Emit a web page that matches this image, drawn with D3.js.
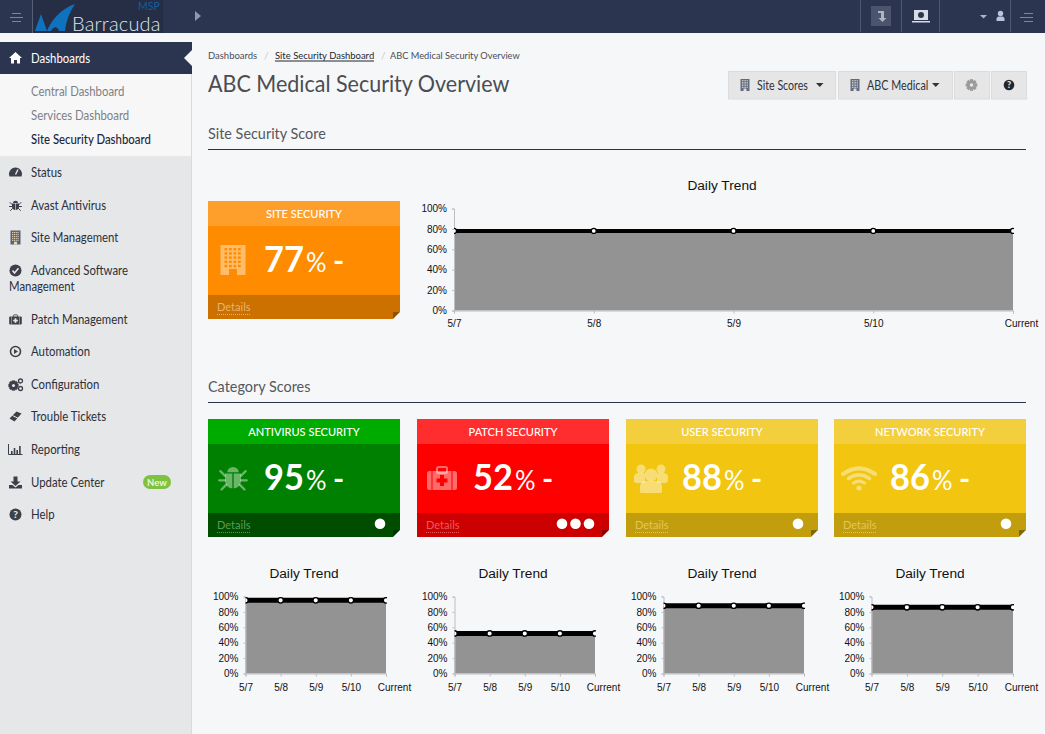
<!DOCTYPE html>
<html>
<head>
<meta charset="utf-8">
<title>ABC Medical Security Overview</title>
<script src="https://d3js.org/d3.v7.min.js"></script>
<style>
  html, body { margin: 0; padding: 0; background: #f6f7f9; overflow: hidden; }
  svg { display: block; }
  text { font-family: "Lato", "Noto Sans", sans-serif; }
  .chart text { font-family: "Liberation Sans", Arial, sans-serif; }
</style>
</head>
<body>
<svg id="page" width="1045" height="734"></svg>
<script>
// Chart values
const trendDays = ["5/7", "5/8", "5/9", "5/10", "Current"];
const percentTicks = [0, 20, 40, 60, 80, 100];
const siteTrend = [78, 78, 78, 78, 78];
const antivirusTrend = [95, 95, 95, 95, 95];
const patchTrend = [52, 52, 52, 52, 52];
const userTrend = [88, 88, 88, 88, 88];
const networkTrend = [86, 86, 86, 86, 86];

const cardTitles = ["SITE SECURITY", "ANTIVIRUS SECURITY", "PATCH SECURITY", "USER SECURITY", "NETWORK SECURITY"];
const cardScores = [77, 95, 52, 88, 86];
const cardDots = [0, 1, 3, 1, 1];

const subMenuLabels = ["Central Dashboard", "Services Dashboard", "Site Security Dashboard"];
const menuLabels = ["Status", "Avast Antivirus", "Site Management", "Advanced Software", "Patch Management",
  "Automation", "Configuration", "Trouble Tickets", "Reporting", "Update Center", "Help"];

const svg = d3.select("#page");
const navy = "#2c3550";

function rect(parent, x, y, w, h, fill) {
  return parent.append("rect").attr("x", x).attr("y", y).attr("width", w).attr("height", h).attr("fill", fill);
}
function label(parent, x, y, str, size, fill, weight, anchor) {
  return parent.append("text").attr("x", x).attr("y", y).attr("font-size", size).attr("fill", fill)
    .attr("font-weight", weight || 400).attr("text-anchor", anchor || "start").text(str);
}
// Lato runs wider than the page's font, so squeeze the text horizontally
function squeeze(sel, factor) {
  const len = sel.node().getComputedTextLength();
  sel.attr("textLength", len * factor).attr("lengthAdjust", "spacingAndGlyphs");
  return sel;
}
function path(parent, d, fill) {
  return parent.append("path").attr("d", d).attr("fill", fill);
}

// ---- icons, drawn around 0,0
function buildingIcon(g, w, h, fill, windowFill) {
  rect(g, -w / 2, -h / 2, w, h, fill);
  const cols = d3.range(4), rows = d3.range(5);
  cols.forEach(c => rows.forEach(r => {
    rect(g, -w / 2 + w * (0.16 + c * 0.18), -h / 2 + h * (0.1 + r * 0.14), w * 0.11, h * 0.08, windowFill);
  }));
  rect(g, -w * 0.16, h * 0.3, w * 0.32, h * 0.2, windowFill);
}
function bugIcon(g, s, fill) {
  g = g.append("g").attr("transform", `scale(${s})`);
  path(g, "M-5,-5 A5,4.5 0 0 1 5,-5 Z", fill);
  path(g, "M-7,-4 H-0.6 V9 C-4,9 -7,6 -7,2 Z M7,-4 H0.6 V9 C4,9 7,6 7,2 Z", fill);
  g.append("path").attr("d", "M-7,-2 L-11,-6 M7,-2 L11,-6 M-7,2 H-12 M7,2 H12 M-6,6 L-10,10 M6,6 L10,10")
    .attr("stroke", fill).attr("stroke-width", 2).attr("stroke-linecap", "round");
}
function medkitIcon(g, s, fill, cross) {
  g = g.append("g").attr("transform", `scale(${s})`);
  g.append("rect").attr("x", -5).attr("y", -11).attr("width", 10).attr("height", 6).attr("rx", 1.5)
    .attr("fill", "none").attr("stroke", fill).attr("stroke-width", 2);
  g.append("rect").attr("x", -15).attr("y", -7).attr("width", 30).attr("height", 19).attr("rx", 2.5).attr("fill", fill);
  rect(g, -2, -3, 4, 11, cross);
  rect(g, -5.5, 0.5, 11, 4, cross);
  rect(g, -10.5, -7, 1, 19, cross);
  rect(g, 9.5, -7, 1, 19, cross);
}
function usersIcon(g, fill) {
  [[-10, -9, 4.5], [10, -9, 4.5]].forEach(p => g.append("circle").attr("cx", p[0]).attr("cy", p[1]).attr("r", p[2]).attr("fill", fill));
  path(g, "M-17,-1 Q-17,-5 -12,-5 H-8 Q-6,-5 -6,-2 V5 H-14 Q-17,5 -17,2 Z", fill);
  path(g, "M17,-1 Q17,-5 12,-5 H8 Q6,-5 6,-2 V5 H14 Q17,5 17,2 Z", fill);
  g.append("circle").attr("cx", 0).attr("cy", -3).attr("r", 6.5).attr("fill", fill);
  path(g, "M-11,14 V9 Q-11,3 -5,3 H5 Q11,3 11,9 V14 Q11,15 9,15 H-9 Q-11,15 -11,14 Z", fill);
}
function wifiIcon(g, fill) {
  [[16, 4], [10.5, 3.6], [5.5, 3.2]].forEach((a, i) => {
    g.append("path")
      .attr("d", `M${-a[0]},${-4 + i * 4.5} Q0,${-4 + i * 4.5 - a[0] * 0.7} ${a[0]},${-4 + i * 4.5}`)
      .attr("fill", "none").attr("stroke", fill).attr("stroke-width", a[1]).attr("stroke-linecap", "round");
  });
  g.append("circle").attr("cx", 0).attr("cy", 10).attr("r", 2.6).attr("fill", fill);
}
function gearIcon(g, r, fill, hole) {
  d3.range(8).forEach(i => {
    g.append("rect").attr("x", -1.6).attr("y", -r - 1.5).attr("width", 3.2).attr("height", 3.5)
      .attr("fill", fill).attr("transform", `rotate(${i * 45})`);
  });
  g.append("circle").attr("r", r).attr("fill", fill);
  g.append("circle").attr("r", r * 0.42).attr("fill", hole);
}
function helpIcon(g, r, fill, fg) {
  g.append("circle").attr("r", r).attr("fill", fill);
  label(g, 0, r * 0.62, "?", r * 1.7, fg, 900, "middle");
}

// ---- top bar
rect(svg, 0, 0, 1045, 33, navy);
rect(svg, 33, 0, 130, 33, "#262e46");
rect(svg, 32, 0, 1, 33, "#566079");
[0, 1, 2].forEach(i => rect(svg, i === 1 ? 10 : 12, 13 + i * 4, i === 1 ? 13 : 9, 1, "#7d8597"));
path(svg, "M35,31 L41,14 L47,31 Z M47,31 C52,19 61,9 75,4 C69,13 66,22 65,31 L59,31 C58,27 54,25 51,31 Z", "#0f72bd");
label(svg, 72, 31, "Barracuda", 20, "#dfe3ea", 300).style("letter-spacing", "0.2px");
label(svg, 138, 10, "MSP", 10.5, "#0f5f9f", 400);
path(svg, "M195,11 L201,16 L195,21 Z", "#8f97a8");
[860, 901, 939, 1010].forEach(x => rect(svg, x, 0, 1, 32, "#4e5770"));
rect(svg, 871, 6, 20, 20, "#4b546c");
path(svg, "M878,11 H884 V18 H886.5 L882.5,22 L878.5,18 H881 V13 H878 Z", "#aeb5c3");
rect(svg, 914, 10, 14, 10, "#d8dce4");
svg.append("circle").attr("cx", 921).attr("cy", 15).attr("r", 3).attr("fill", navy);
rect(svg, 912, 21, 18, 1.5, "#d8dce4");
path(svg, "M980,15 H987 L983.5,18.5 Z", "#aeb5c3");
svg.append("circle").attr("cx", 1000.5).attr("cy", 13.5).attr("r", 2.7).attr("fill", "#b9c4d8");
path(svg, "M996.5,21 V19 Q996.5,16.5 999,16.5 H1002 Q1004.5,16.5 1004.5,19 V21 Z", "#b9c4d8");
[0, 1, 2].forEach(i => rect(svg, i === 1 ? 1020 : 1024, 13 + i * 4, i === 1 ? 13 : 9, 1, "#7d8597"));

// ---- sidebar
rect(svg, 0, 33, 192, 701, "#e6e7e9");
rect(svg, 191, 33, 1, 701, "#d9dadd");
rect(svg, 0, 33, 192, 9, "#f6f7f9");
rect(svg, 0, 42, 192, 32, navy);
path(svg, "M192,50 L184,58 L192,66 Z", "#f6f7f9");
path(svg, "M9,58 L15.5,52 L22,58 H20 V63.5 H17 V60 H14 V63.5 H11 V58 Z", "#ffffff");
squeeze(label(svg, 31, 62.5, "Dashboards", 12.5, "#ffffff"), 0.91);
rect(svg, 0, 74, 191, 82, "#f7f7f8");
subMenuLabels.forEach((d, i) => {
  squeeze(label(svg, 31, 95.5 + i * 24, d, 12.5, i === 2 ? "#1e2538" : "#7d7f85", i === 2 ? 500 : 400), 0.91);
});

const menuY = [176.5, 209.5, 241.5, 274.5, 323.5, 355.5, 388.5, 420.5, 453.5, 486.5, 518.5];
const ink = "#3c4048";
menuLabels.forEach((d, i) => {
  squeeze(label(svg, 31, menuY[i], d, 12.5, "#2c3039"), 0.91);
  const g = svg.append("g").attr("transform", `translate(15.5,${menuY[i] - 4})`);
  if (d === "Status") {
    g.append("path").attr("d", "M-6,4 A6.5,6.5 0 1 1 6,4 Z").attr("fill", ink);
    g.append("path").attr("d", "M0,2 L2.5,-3").attr("stroke", "#e6e7e9").attr("stroke-width", 1.4);
  } else if (d === "Avast Antivirus") {
    bugIcon(g, 0.5, ink);
  } else if (d === "Site Management") {
    buildingIcon(g, 10, 14, "#55607a", "#e9d9b8");
  } else if (d === "Advanced Software") {
    g.append("circle").attr("r", 6).attr("fill", ink);
    g.append("path").attr("d", "M-3,0 L-1,2.4 L3,-2.2").attr("fill", "none").attr("stroke", "#e6e7e9").attr("stroke-width", 1.6);
  } else if (d === "Patch Management") {
    medkitIcon(g, 0.42, ink, "#e6e7e9");
  } else if (d === "Automation") {
    g.append("circle").attr("r", 5).attr("fill", "none").attr("stroke", ink).attr("stroke-width", 1.6);
    path(g, "M-1.5,-2.5 L2.5,0 L-1.5,2.5 Z", ink);
  } else if (d === "Configuration") {
    gearIcon(g.append("g").attr("transform", "translate(-2,1)"), 3.6, ink, "#e6e7e9");
    g.append("circle").attr("cx", 5).attr("cy", -3.5).attr("r", 2).attr("fill", "none").attr("stroke", ink).attr("stroke-width", 1.3);
    g.append("circle").attr("cx", 5).attr("cy", 4).attr("r", 2).attr("fill", "none").attr("stroke", ink).attr("stroke-width", 1.3);
  } else if (d === "Trouble Tickets") {
    path(g, "M-6,2 L1,-5 L6,-3 L-1,5 Z", ink);
    g.append("path").attr("d", "M-3,-1 L3,2").attr("stroke", "#e6e7e9").attr("stroke-width", 1);
  } else if (d === "Reporting") {
    g.append("path").attr("d", "M-7,-5.5 V5 H7").attr("fill", "none").attr("stroke", ink).attr("stroke-width", 1);
    [[-4.5, 3], [-1.8, 6], [0.9, 4], [3.6, 8]].forEach(b => rect(g, b[0], 4.5 - b[1], 1.6, b[1], ink));
  } else if (d === "Update Center") {
    path(g, "M-2,-6 H2 V-1 H5 L0,3.5 L-5,-1 H-2 Z M-6.5,2.5 H-3 L0,5 L3,2.5 H6.5 V6 H-6.5 Z", ink);
  } else if (d === "Help") {
    helpIcon(g, 6, ink, "#e6e7e9");
  }
});
squeeze(label(svg, 9, 290.5, "Management", 12.5, "#2c3039"), 0.91);
rect(svg, 143, 475, 28, 14, "#7fc241").attr("rx", 7);
label(svg, 157, 485.5, "New", 9.5, "#e8f5d8", 700, "middle");

// ---- page header
squeeze(label(svg, 208, 59, "Dashboards", 10, "#4a4d55"), 0.945);
label(svg, 264, 59, "/", 10, "#c8cad0");
squeeze(label(svg, 275, 59, "Site Security Dashboard", 10, "#22262e"), 0.945);
rect(svg, 275, 60.5, 99, 1, "#22262e");
label(svg, 381, 59, "/", 10, "#c8cad0");
squeeze(label(svg, 390, 59, "ABC Medical Security Overview", 10, "#4a4d55"), 0.925);
squeeze(label(svg, 208, 92, "ABC Medical Security Overview", 22.5, "#4a4d52"), 0.955);

function button(x, w) {
  return rect(svg, x + 0.5, 71.5, w, 27.5, "#e6e6e6").attr("stroke", "#dcdcdc");
}
button(728, 107);
button(838, 114);
button(954, 35);
button(991, 35);
[745, 855].forEach(x => {
  buildingIcon(svg.append("g").attr("transform", `translate(${x},85)`), 9, 12, "#5e6b85", "#eadfc8");
});
squeeze(label(svg, 757, 89.5, "Site Scores", 12.5, "#2f333b"), 0.85);
path(svg, "M816,83 H823.5 L819.75,87 Z", "#2f333b");
squeeze(label(svg, 867, 89.5, "ABC Medical", 12.5, "#2f333b"), 0.86);
path(svg, "M932,83 H939.5 L935.75,87 Z", "#2f333b");
gearIcon(svg.append("g").attr("transform", "translate(971.5,85)"), 4.3, "#9a9a9a", "#e6e6e6");
helpIcon(svg.append("g").attr("transform", "translate(1009,85)"), 5.3, "#22262e", "#e6e6e6");

squeeze(label(svg, 208, 138.5, "Site Security Score", 15, "#55585e"), 0.96);
rect(svg, 208, 149, 818, 1, navy);
squeeze(label(svg, 208, 391.5, "Category Scores", 15, "#55585e"), 0.96);
rect(svg, 208, 402, 818, 1, navy);

// ---- score cards
const orangeCard = { head: "#ff9f2b", body: "#ff8c00", foot: "#cc7000", fold: "#8f5000", link: "#e9b272" };
const greenCard = { head: "#00ab00", body: "#008000", foot: "#004d00", fold: "#003300", link: "#5b9a5b" };
const redCard = { head: "#ff2d2d", body: "#ff0000", foot: "#cc0000", fold: "#8e0000", link: "#ec5a5a" };
const yellowCard = { head: "#f3cf3d", body: "#f2c511", foot: "#c29e0e", fold: "#806806", link: "#e2c75a" };

function drawCard(i, x, y, colors, icon) {
  const w = 192;
  const g = svg.append("g").attr("transform", `translate(${x},${y})`);
  rect(g, 0, 0, w, 25, colors.head);
  rect(g, 0, 25, w, 69, colors.body);
  rect(g, 0, 94, w, 24, colors.foot);
  path(g, `M${w - 7},111 H${w} L${w - 7},118 Z`, colors.fold);
  path(g, `M${w},111 V118 H${w - 7} Z`, "#f6f7f9");
  squeeze(label(g, w / 2, 16.5, cardTitles[i], 12, "#ffffff", 500, "middle"), 0.92);
  squeeze(label(g, 56, 71, cardScores[i], 37, "#ffffff", 700), 0.93);
  squeeze(label(g, 98, 71, "%", 27, "#ffffff", 400), 0.95);
  label(g, 125, 71, "-", 30, "#ffffff", 700);
  squeeze(label(g, 9, 110, "Details", 12, colors.link), 0.92);
  g.append("line").attr("x1", 9).attr("x2", 42).attr("y1", 113.5).attr("y2", 113.5)
    .attr("stroke", colors.link).attr("stroke-dasharray", "1,1");
  d3.range(cardDots[i]).forEach(k => {
    g.append("circle").attr("cx", w - 20 - k * 13.5).attr("cy", 104.7).attr("r", 5.3).attr("fill", "#ffffff");
  });
  icon(g.append("g").attr("transform", "translate(25,59)"), colors);
}
const fade = "rgba(255,255,255,0.42)";
drawCard(0, 208, 201, orangeCard, (g, c) => buildingIcon(g, 25, 30, fade, c.body));
drawCard(1, 208, 419, greenCard, g => bugIcon(g, 1.15, fade));
drawCard(2, 417, 419, redCard, (g, c) => medkitIcon(g, 1, fade, c.body));
drawCard(3, 626, 419, yellowCard, g => usersIcon(g, fade));
drawCard(4, 834, 419, yellowCard, g => wifiIcon(g, fade));

// ---- trend charts
let clipCount = 0;
function drawTrend(values, left, right, top, bottom, titleX, titleY, labelGap, lineWidth, dotRadius) {
  const chart = svg.append("g").attr("class", "chart");
  const x = d3.scalePoint().domain(trendDays).range([left, right]);
  const y = d3.scaleLinear().domain([0, 100]).range([bottom, top]);
  const points = trendDays.map((d, i) => ({ day: d, value: values[i] }));

  // line and dots get cut off at both ends of the plot
  const clipId = "plot-" + clipCount++;
  chart.append("clipPath").attr("id", clipId).append("rect")
    .attr("x", left).attr("y", top - 6).attr("width", right - left + 1).attr("height", bottom - top + 6);

  chart.append("path").datum(points)
    .attr("d", d3.area().x(d => x(d.day)).y0(y(0)).y1(d => y(d.value)))
    .attr("fill", "#939393");

  const yAxis = chart.append("g").attr("transform", `translate(${left},0)`)
    .call(d3.axisLeft(y).tickValues(percentTicks).tickFormat(d => d + "%").tickSize(2).tickPadding(5));
  const xAxis = chart.append("g").attr("transform", `translate(0,${bottom})`)
    .call(d3.axisBottom(x).tickSize(3).tickPadding(labelGap));
  [yAxis, xAxis].forEach(a => {
    a.selectAll("path, line").attr("stroke", "#bcbec4");
    a.selectAll("text").attr("font-size", 10).attr("fill", "#111111").attr("font-family", "Liberation Sans, Arial, sans-serif");
  });
  // the last label sits to the right of its tick
  xAxis.selectAll(".tick").filter(d => d === "Current").select("text").attr("dx", 8);

  const marks = chart.append("g").attr("clip-path", `url(#${clipId})`);
  marks.append("path").datum(points)
    .attr("d", d3.line().x(d => x(d.day)).y(d => y(d.value)))
    .attr("fill", "none").attr("stroke", "#000000").attr("stroke-width", lineWidth);

  marks.selectAll(".dot").data(points).enter().append("circle")
    .attr("class", "dot")
    .attr("cx", d => x(d.day))
    .attr("cy", d => y(d.value))
    .attr("r", dotRadius)
    .attr("fill", "#ffffff")
    .attr("stroke", "#000000")
    .attr("stroke-width", 1.3);

  chart.append("text").attr("x", titleX).attr("y", titleY).attr("text-anchor", "middle")
    .attr("font-size", 13.7).attr("fill", "#111111").text("Daily Trend");
}
drawTrend(siteTrend, 454, 1013, 208.5, 310.5, 722, 190, 6, 4, 2.5);
drawTrend(antivirusTrend, 245.5, 386, 596.5, 673.5, 304, 578, 7, 5, 2.7);
drawTrend(patchTrend, 454.5, 595, 596.5, 673.5, 513, 578, 7, 5, 2.7);
drawTrend(userTrend, 663.5, 804, 596.5, 673.5, 722, 578, 7, 5, 2.7);
drawTrend(networkTrend, 871.5, 1013, 596.5, 673.5, 930, 578, 7, 5, 2.7);
</script>
</body>
</html>
